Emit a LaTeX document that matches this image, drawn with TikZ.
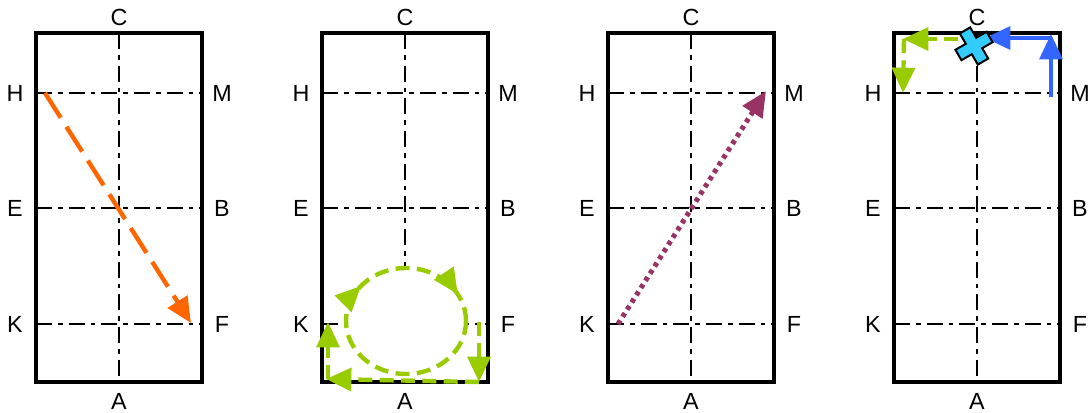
\documentclass[tikz,border=0pt]{standalone}
\usepackage{fontspec}
\setmainfont{Liberation Sans}
\usetikzlibrary{arrows.meta,decorations.markings}
\definecolor{runorange}{HTML}{FF6600}
\definecolor{rungreen}{HTML}{99CC00}
\definecolor{runpurple}{HTML}{993366}
\definecolor{runblue}{HTML}{3366FF}
\definecolor{xcyan}{HTML}{33CCFF}
\tikzset{
  courtline/.style={line width=3.6pt},
  midline/.style={line width=1.8pt, dash pattern=on 12pt off 4.5pt on 3.5pt off 4.5pt},
  lbl/.style={font=\fontsize{17.5}{20}\selectfont, inner sep=0pt},
  orangerun/.style={runorange, line width=3.3pt, dash pattern=on 22pt off 8pt, ->},
  greenrun/.style={rungreen, line width=3.3pt, dash pattern=on 10.5pt off 5.5pt},
  purplerun/.style={runpurple, line width=3.8pt, dash pattern=on 3.2pt off 3.2pt, ->},
  bluerun/.style={runblue, line width=3.3pt, ->}
}
\begin{document}
\begin{tikzpicture}[line join=miter,>={Triangle[length=19pt,width=17pt]},x=0.75pt,y=-0.75pt]
\useasboundingbox (0,0) rectangle (1092,413);
\foreach \i/\dx in {1/0,2/286,3/572,4/858}{
  \begin{scope}[shift={(\dx,0)}]
    \draw[midline] (119,33) -- (119,382);
    \draw[midline] (36,93) -- (202,93);
    \draw[midline] (36,208) -- (202,208);
    \draw[midline] (36,324) -- (202,324);
    \draw[courtline] (36,33) rectangle (202,382);
    \node[lbl] (C\i) at (119,17) {C};
    \node[lbl] (A\i) at (119,401) {A};
    \node[lbl] (H\i) at (15,93) {H};
    \node[lbl] (M\i) at (222,93) {M};
    \node[lbl] (E\i) at (15,208) {E};
    \node[lbl] (B\i) at (222,208) {B};
    \node[lbl] (K\i) at (15,324) {K};
    \node[lbl] (F\i) at (222,324) {F};
  \end{scope}
}
% panel 1
\coordinate (o1) at (45,93);
\coordinate (o2) at (191,323);
\draw[orangerun] (o1) -- (o2);
% panel 2
\coordinate (loopc) at (406,321);
\draw[greenrun, fill=white, postaction={decorate},
  decoration={markings, mark=at position 0.61 with {\arrow{>}},
    mark=at position 0.92 with {\arrow{>}}}]
  (loopc) ellipse [x radius=60, y radius=53];
\coordinate (g1) at (479,322);
\coordinate (g2) at (479,382);
\coordinate (g3) at (326,379);
\coordinate (g4) at (328,322);
\draw[greenrun,->] (g1) -- (g2);
\draw[greenrun,->] (g2) -- (g3);
\draw[greenrun,->] (328,379) -- (g4);
% panel 3
\coordinate (p1) at (618,324);
\coordinate (p2) at (766,91);
\draw[purplerun] (p1) -- (p2);
% panel 4
\coordinate (q1) at (958,39);
\coordinate (q2) at (903,39);
\coordinate (q3) at (903,93);
\draw[greenrun,->] (q1) -- (q2);
\draw[greenrun,->] (904,39) -- (q3);
\coordinate (b1) at (1051,97);
\coordinate (b2) at (1051,34);
\coordinate (b3) at (985,38);
\draw[bluerun] (b1) -- (b2);
\draw[bluerun] (1051,38) -- (b3);
\begin{scope}[shift={(974,46)}, rotate=30]
  \draw[fill=xcyan, line width=1.5pt]
    (-6,-18) -- (6,-18) -- (6,-6) -- (18,-6) -- (18,6) -- (6,6) -- (6,18)
    -- (-6,18) -- (-6,6) -- (-18,6) -- (-18,-6) -- (-6,-6) -- cycle;
\end{scope}
\end{tikzpicture}
\end{document}
